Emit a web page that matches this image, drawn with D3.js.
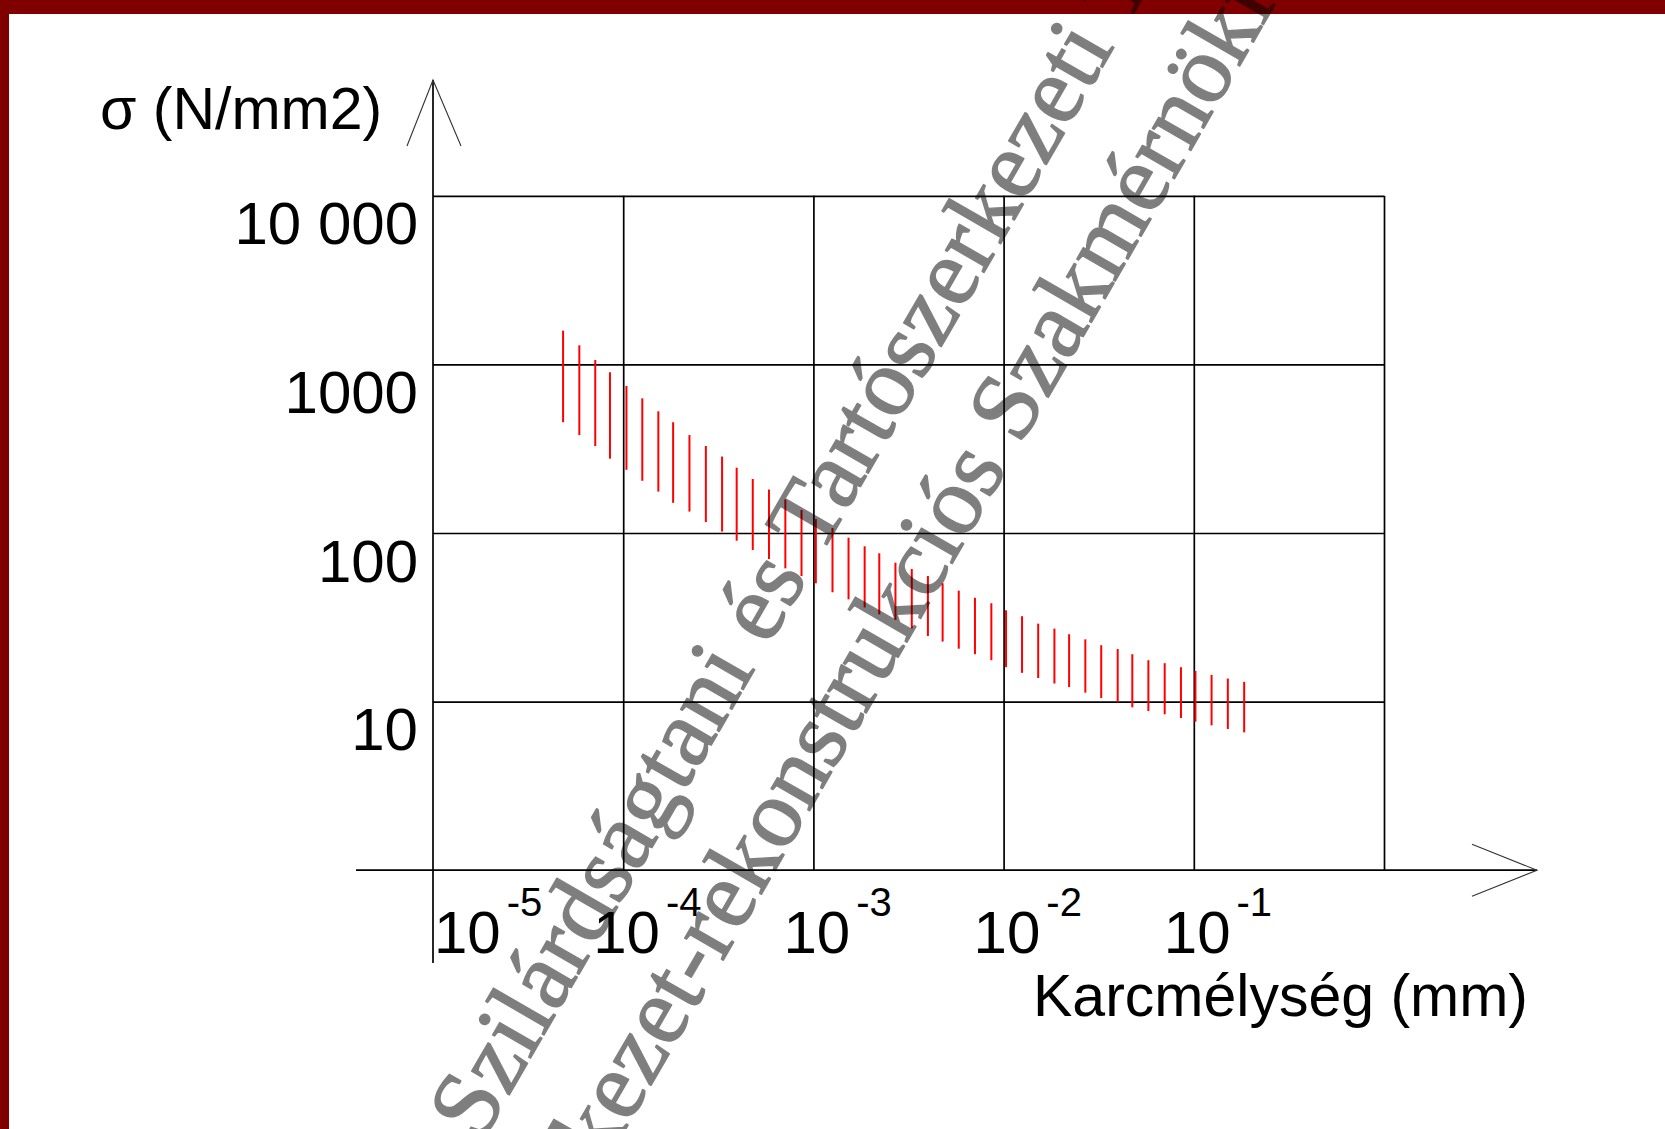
<!DOCTYPE html>
<html>
<head>
<meta charset="utf-8">
<script src="https://cdn.jsdelivr.net/npm/d3@7"></script>
<style>
  html, body { margin: 0; padding: 0; background: #fff; }
  svg { display: block; }
</style>
</head>
<body>
<script>
// ---------- data ----------
const depth = [4.83e-5, 5.88e-5, 7.13e-5, 8.52e-5,
  1.04e-4, 1.26e-4, 1.53e-4, 1.83e-4, 2.23e-4, 2.72e-4, 3.31e-4, 3.95e-4, 4.80e-4, 5.84e-4, 7.12e-4, 8.66e-4,
  1.03e-3, 1.26e-3, 1.53e-3, 1.86e-3, 2.22e-3, 2.70e-3, 3.29e-3, 4.00e-3, 4.78e-3, 5.81e-3, 7.07e-3, 8.62e-3,
  1.03e-2, 1.25e-2, 1.52e-2, 1.85e-2, 2.21e-2, 2.69e-2, 3.26e-2, 3.98e-2, 4.75e-2, 5.77e-2, 7.03e-2, 8.56e-2,
  0.102, 0.124, 0.151, 0.184];
const sigmaMax = [1585, 1298, 1062, 898, 745, 629, 527, 454, 381, 328,
  284, 244, 209, 181, 158, 137, 121, 107, 93.8, 83.4,
  75.8, 66.7, 61.2, 55.6, 50.3, 45.5, 41.3, 38.3, 34.8, 32.1,
  29.0, 27.1, 25.1, 23.4, 21.6, 20.5, 19.1, 17.6, 16.9, 16.0,
  15.2, 14.4, 13.7, 13.1];
const sigmaMin = [454, 381, 328, 276, 237, 204, 176, 151, 134, 116,
  102, 90.0, 79.3, 70.1, 61.7, 55.6, 50.3, 44.5, 40.4, 36.2,
  32.9, 30.5, 27.2, 24.5, 22.7, 20.6, 19.1, 17.6, 16.0, 14.8,
  13.8, 12.8, 12.2, 11.3, 10.5, 9.90, 9.25, 8.79, 8.41, 7.99,
  7.60, 7.23, 6.88, 6.57];

const yTicks = [10, 100, 1000, 10000];
const yTickLabels = ["10", "100", "1000", "10 000"];
const xTicks = [1e-5, 1e-4, 1e-3, 1e-2, 1e-1];
const xTickBase = "10";
const xTickExp = ["-5", "-4", "-3", "-2", "-1"];
const xGrid = [1e-4, 1e-3, 1e-2, 1e-1, 1];

const yTitle = "σ (N/mm2)";
const xTitle = "Karcmélység (mm)";
const watermark1 = "Szilárdságtani és Tartószerkezeti Tanszék";
const watermark2 = "Tartószerkezet-rekonstrukciós Szakmérnöki Szak";

// ---------- layout ----------
const W = 1665, H = 1129;
const sans = "'Liberation Sans', Arial, sans-serif";
const serif = "'Liberation Serif', 'Times New Roman', serif";

const svg = d3.select("body").append("svg")
  .attr("width", W).attr("height", H)
  .attr("viewBox", `0 0 ${W} ${H}`);

svg.append("rect").attr("width", W).attr("height", H).attr("fill", "#fff");
// dark red frame (top band + left band)
svg.append("rect").attr("x", 0).attr("y", 0).attr("width", W).attr("height", 14).attr("fill", "#800000");
svg.append("rect").attr("x", 0).attr("y", 0).attr("width", 9).attr("height", H).attr("fill", "#800000");

const x = d3.scaleLog().domain([1e-5, 1]).range([433, 1384]);
const y = d3.scaleLog().domain([1, 1e4]).range([870.2, 195.8]);

const g = svg.append("g");
const lineW = 1.7;

// horizontal grid via axis
const yAxis = d3.axisLeft(y)
  .tickValues(yTicks)
  .tickSize(-(x(1) - x(1e-5)))
  .tickPadding(15)
  .tickFormat((d, i) => yTickLabels[i]);
const gy = g.append("g").attr("transform", `translate(${x(1e-5)},0)`).call(yAxis);
gy.select(".domain").remove();
gy.selectAll(".tick line").attr("stroke", "#000").attr("stroke-width", lineW);
gy.selectAll(".tick text")
  .attr("dy", null).attr("y", 48)
  .attr("font-family", sans).attr("font-size", 60).attr("fill", "#000");

// vertical grid via axis
const xAxis = d3.axisBottom(x)
  .tickValues(xGrid)
  .tickSize(-(y(1) - y(1e4)))
  .tickFormat("");
const gx = g.append("g").attr("transform", `translate(0,${y(1)})`).call(xAxis);
gx.select(".domain").remove();
gx.selectAll(".tick line").attr("stroke", "#000").attr("stroke-width", lineW);

// axes lines with arrows
const x0 = x(1e-5), y0 = y(1);
g.append("line").attr("x1", x0).attr("x2", x0).attr("y1", 80).attr("y2", 963)
  .attr("stroke", "#000").attr("stroke-width", lineW);
g.append("line").attr("x1", 356).attr("x2", 1537).attr("y1", y0).attr("y2", y0)
  .attr("stroke", "#000").attr("stroke-width", lineW);
g.append("polyline").attr("points", `${x0 - 26},146 ${x0},80 ${x0 + 28},146`)
  .attr("fill", "none").attr("stroke", "#333").attr("stroke-width", 1.1);
g.append("polyline").attr("points", `1472,${y0 - 26} 1537,${y0} 1472,${y0 + 26}`)
  .attr("fill", "none").attr("stroke", "#333").attr("stroke-width", 1.1);

// x tick labels with superscripts
const xl = g.append("g").attr("font-family", sans).attr("fill", "#000");
xTicks.forEach((t, i) => {
  const shift = i === 0 ? 1 : -30;
  const txt = xl.append("text")
    .attr("x", x(t) + shift).attr("y", 953)
    .attr("font-size", 60);
  txt.append("tspan").text(xTickBase);
  txt.append("tspan").attr("dx", 6).attr("dy", -37).attr("font-size", 40).text(xTickExp[i]);
});

// titles
g.append("text").attr("x", 100).attr("y", 129)
  .attr("font-family", sans).attr("font-size", 59).attr("fill", "#000").text(yTitle);
g.append("text").attr("x", 1033).attr("y", 1016)
  .attr("font-family", sans).attr("font-size", 59).attr("fill", "#000").text(xTitle);

// red range bars
const bars = depth.map((d, i) => ({ d, hi: sigmaMax[i], lo: sigmaMin[i] }));
g.append("g").selectAll("line").data(bars).join("line")
  .attr("x1", b => x(b.d)).attr("x2", b => x(b.d))
  .attr("y1", b => y(b.hi)).attr("y2", b => y(b.lo))
  .attr("stroke", "#ff0000").attr("stroke-width", 2);

// watermark (semi-transparent, drawn over everything)
const wm = svg.append("g")
  .attr("opacity", 0.5)
  .append("g")
  .attr("transform", "translate(481,1144) rotate(-60)")
  .attr("font-family", serif).attr("font-size", 97)
  .attr("fill", "#000").attr("stroke", "#000").attr("stroke-width", 1.4)
  .attr("stroke-linejoin", "round");
wm.append("text").attr("x", 0).attr("y", 0).text(watermark1);
wm.append("text").attr("x", -318).attr("y", 118).text(watermark2);
</script>
</body>
</html>
